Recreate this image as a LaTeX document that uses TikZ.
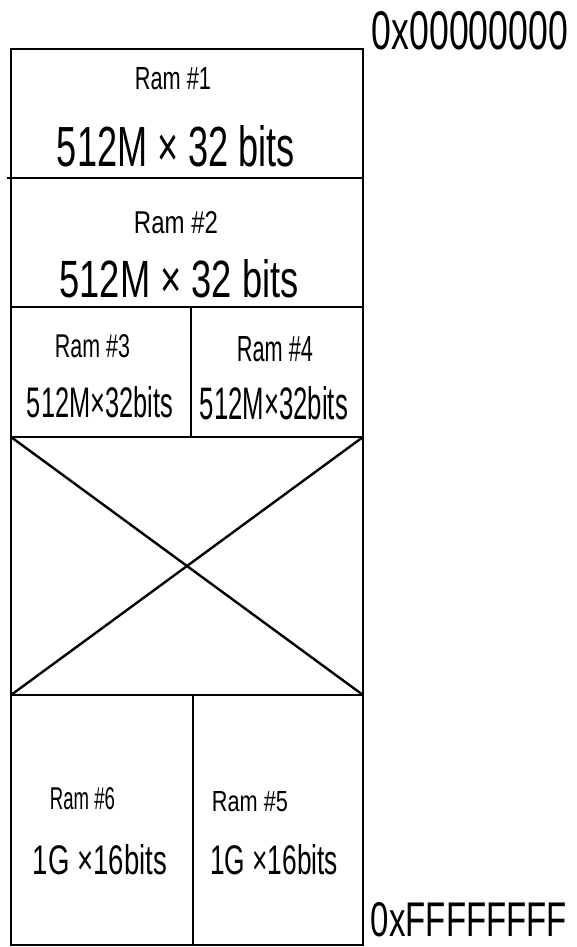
\documentclass[tikz,border=0pt]{standalone}
\usepackage{graphicx}
\usepackage{fontspec}
\setmainfont{Liberation Sans}
\newcommand{\hwtext}[3]{\resizebox{#1pt}{#2pt}{#3}}
\begin{document}
\begin{tikzpicture}[x=1pt,y=-1pt,line width=2.4pt,
  lbl/.style={inner sep=0pt,outer sep=0pt,anchor=center}]
\useasboundingbox (0,0) rectangle (577,947);
% corners and divisions
\coordinate (tl) at (11,49);
\coordinate (br) at (363,945);
\coordinate (d1l) at (7,178);   \coordinate (d1r) at (363,178);
\coordinate (d2l) at (11,307);  \coordinate (d2r) at (363,307);
\coordinate (d3l) at (11,437);  \coordinate (d3r) at (363,437);
\coordinate (d4l) at (11,695);  \coordinate (d4r) at (363,695);
\coordinate (v1t) at (191,307); \coordinate (v1b) at (191,437);
\coordinate (v2t) at (193,695); \coordinate (v2b) at (193,945);
% outline
\draw (tl) rectangle (br);
\draw (d1l) -- (d1r);
\draw (d2l) -- (d2r);
\draw (d3l) -- (d3r);
\draw (d4l) -- (d4r);
\draw (v1t) -- (v1b);
\draw (v2t) -- (v2b);
\draw (d3l) -- (d4r);
\draw (d3r) -- (d4l);
% labels
\node[lbl] (r1) at (173,79)    {\hwtext{76}{22}{Ram \#1}};
\node[lbl] (s1) at (176,146.5) {\hwtext{238}{41}{512M × 32 bits}};
\node[lbl] (r2) at (176,223)   {\hwtext{84}{22}{Ram \#2}};
\node[lbl] (s2) at (179,279)   {\hwtext{239}{38}{512M × 32 bits}};
\node[lbl] (r3) at (92.5,346.5){\hwtext{75}{23}{Ram \#3}};
\node[lbl] (s3) at (100,402.5) {\hwtext{146}{31}{512M×32bits}};
\node[lbl] (r4) at (275,349.5) {\hwtext{76}{25}{Ram \#4}};
\node[lbl] (s4) at (274,403.5) {\hwtext{148}{33}{512M×32bits}};
\node[lbl] (r6) at (82.5,799)  {\hwtext{65}{22}{Ram \#6}};
\node[lbl] (g6) at (100,860)   {\hwtext{134}{30}{1G ×16bits}};
\node[lbl] (r5) at (250,802)   {\hwtext{76}{20}{Ram \#5}};
\node[lbl] (g5) at (274,860)   {\hwtext{128}{30}{1G ×16bits}};
\node[lbl] (a0) at (470,31)    {\hwtext{196}{38}{0x00000000}};
\node[lbl] (af) at (469,920)   {\hwtext{196}{34}{0xFFFFFFFF}};
\end{tikzpicture}
\end{document}
